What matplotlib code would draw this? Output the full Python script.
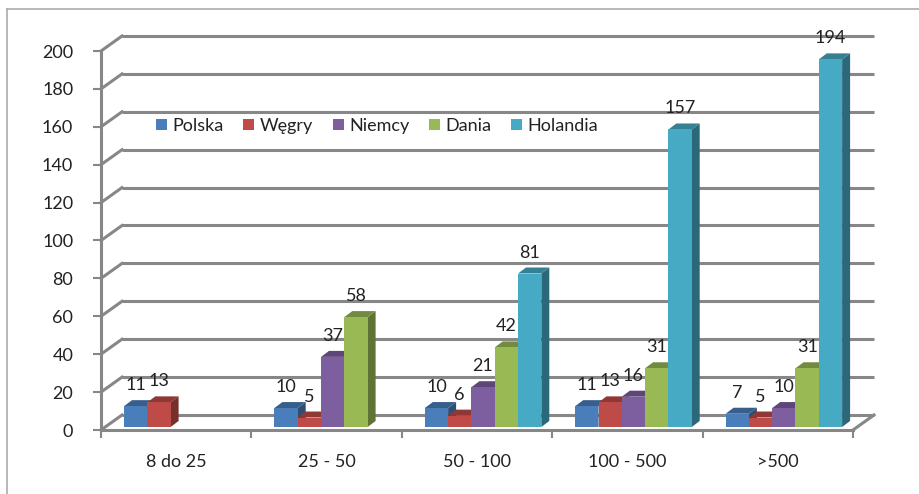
import numpy as np
import matplotlib
matplotlib.use("Agg")
import matplotlib.pyplot as plt
from matplotlib.patches import Polygon, Patch
from matplotlib.transforms import offset_copy
from matplotlib.lines import Line2D

# ---------------- data ----------------
categories = ['8 do 25', '25 - 50', '50 - 100', '100 - 500', '>500']
series_names = ['Polska', 'Węgry', 'Niemcy', 'Dania', 'Holandia']
polska = [11, 10, 10, 11, 7]
wegry = [13, 5, 6, 13, 5]
niemcy = [np.nan, 37, 21, 16, 10]
dania = [np.nan, 58, 42, 31, 31]
holandia = [np.nan, np.nan, 81, 157, 194]
yticks = list(range(0, 201, 20))

series = [polska, wegry, niemcy, dania, holandia]
front_colors = ['#4A7EBB', '#BE4B48', '#7D5FA0', '#98B954', '#46AAC4']

plt.rcParams['font.family'] = ['Lato', 'DejaVu Sans']
text_color = '#222222'
grid_color = '#878787'
fs = 13

W, H = 920, 494
fig = plt.figure(figsize=(W / 100, H / 100), dpi=100)
ax_l, ax_r, ax_t, ax_b = 101, 853, 51, 430
ax = fig.add_axes([ax_l / W, (H - ax_b) / H, (ax_r - ax_l) / W, (ax_b - ax_t) / H])
ax.set_xlim(-0.5, len(categories) - 0.5)
ax.set_ylim(0, 200)

sx = (ax_r - ax_l) / len(categories)   # px per x unit
sy = (ax_b - ax_t) / 200.0             # px per y unit

# back-wall depth offset
bdx, bdy = 21, 15
back_tr = offset_copy(ax.transData, fig=fig, x=bdx, y=bdy, units='dots')

x0, x1 = -0.5, len(categories) - 0.5
for v in yticks:
    ax.plot([x0, x1], [v, v], color=grid_color, lw=2.2, transform=back_tr,
            clip_on=False, zorder=1, solid_capstyle='butt')
    ax.plot([x0, x0 + bdx / sx], [v, v + bdy / sy], color=grid_color, lw=2.2,
            clip_on=False, zorder=1)
# floor right diagonal
ax.plot([x1, x1 + bdx / sx], [0, bdy / sy], color=grid_color, lw=2.2,
        clip_on=False, zorder=1)

# ---------------- bars ----------------
bw = 23.3 / sx
start = 23 / sx
ddx, ddy = 8 / sx, 6 / sy
bar_tr = offset_copy(ax.transData, fig=fig, x=0, y=3, units='dots')


def shade(c, f):
    r, g, b = matplotlib.colors.to_rgb(c)
    return (r * f, g * f, b * f)


for k, (vals, col) in enumerate(zip(series, front_colors)):
    xs = np.arange(len(categories)) - 0.5 + start + k * bw + bw / 2
    bars = ax.bar(xs, vals, width=bw, color=col, zorder=3 + k * 0.1 + 0.05,
                  linewidth=0)
    for xc, h, p in zip(xs, vals, bars.patches):
        if np.isnan(h):
            continue
        p.set_transform(bar_tr)
        xl, xr = xc - bw / 2, xc + bw / 2
        side = Polygon([(xr, 0), (xr + ddx, ddy), (xr + ddx, h + ddy), (xr, h)],
                       closed=True, facecolor=shade(col, 0.62), edgecolor='none',
                       transform=bar_tr, zorder=3 + k * 0.1, clip_on=False)
        top = Polygon([(xl, h), (xr, h), (xr + ddx, h + ddy), (xl + ddx, h + ddy)],
                      closed=True, facecolor=shade(col, 0.75), edgecolor='none',
                      transform=bar_tr, zorder=3 + k * 0.1, clip_on=False)
        ax.add_patch(side)
        ax.add_patch(top)
        ax.annotate(f"{int(h)}", xy=(xc, h), xytext=(0, 19),
                    textcoords='offset pixels', ha='center', va='baseline',
                    fontsize=fs, color=text_color, zorder=10,
                    annotation_clip=False)

# ---------------- axes styling ----------------
for s in ['top', 'right']:
    ax.spines[s].set_visible(False)
for s in ['left', 'bottom']:
    ax.spines[s].set_color(grid_color)
    ax.spines[s].set_linewidth(2.2)
    ax.spines[s].set_zorder(2)

ax.set_yticks(yticks)
ax.set_yticklabels([str(v) for v in yticks])
ax.tick_params(axis='y', length=6, width=1.5, color=grid_color, pad=14,
               labelsize=fs, labelcolor=text_color)

ax.set_xticks(np.arange(len(categories)))
ax.set_xticklabels(categories)
ax.set_xticks(np.arange(len(categories) + 1) - 0.5, minor=True)
ax.tick_params(axis='x', which='major', length=0, pad=17, labelsize=fs,
               labelcolor=text_color)
ax.tick_params(axis='x', which='minor', length=6, width=1.5, color=grid_color)
ax.patch.set_visible(False)

# ---------------- legend ----------------
handles = [Patch(facecolor=c, edgecolor='none') for c in front_colors]
fig.legend(handles, series_names, loc='center',
           bbox_to_anchor=(377 / W, 1 - 126 / H), ncol=5, frameon=False,
           fontsize=fs, handlelength=0.6, handleheight=0.6,
           handletextpad=0.3, columnspacing=1.1, labelcolor=text_color)

# ---------------- outer frame ----------------
fy = 1 - 9 / H
fx = 7 / W
fig.add_artist(Line2D([fx, fx], [0, fy], transform=fig.transFigure,
                      color='#ababab', lw=1.2))
fig.add_artist(Line2D([fx, 1], [fy, fy], transform=fig.transFigure,
                      color='#ababab', lw=1.2))

fig.savefig('out.png', dpi=100)
